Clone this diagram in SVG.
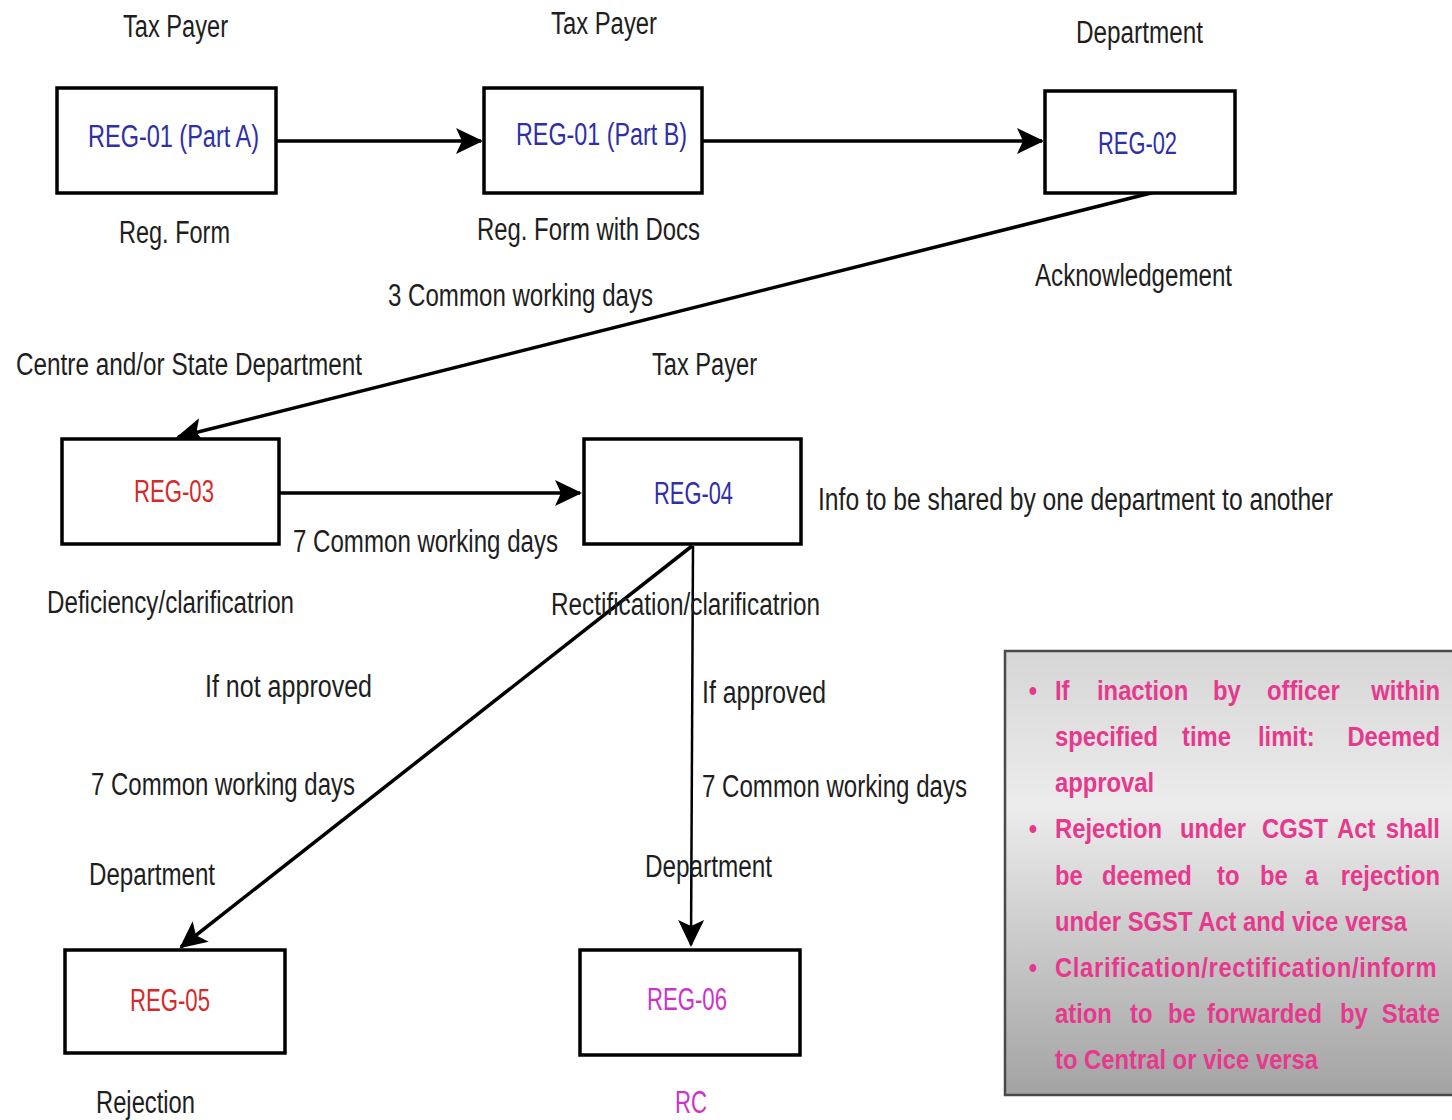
<svg xmlns="http://www.w3.org/2000/svg" width="1452" height="1120" viewBox="0 0 1452 1120">
<style>
.lbl{font-family:"Liberation Sans",Arial,sans-serif;font-size:31px;fill:#1e1e1e}
.box{fill:#fff;stroke:#000;stroke-width:3.5}
.blue{fill:#2f2fa6}
.red{fill:#d42a2a}
.mag{fill:#cc33c8}
.con{stroke:#000;stroke-width:3.5;fill:none}
.note{font-family:"Liberation Sans",Arial,sans-serif;font-weight:bold;font-size:28px;fill:#e6398e}
</style>
<defs>
<marker id="ah" viewBox="-28 -15 31 30" refX="0" refY="0" markerWidth="31" markerHeight="30" markerUnits="userSpaceOnUse" orient="auto">
<path d="M2,0 L-25,-13 L-19,0 L-25,13 Z" fill="#000"/>
</marker>
<linearGradient id="gbg" x1="0" y1="0" x2="0" y2="1">
<stop offset="0" stop-color="#d6d6d6"/>
<stop offset="0.35" stop-color="#ececec"/>
<stop offset="1" stop-color="#a3a3a3"/>
</linearGradient>
</defs>
<rect width="1452" height="1120" fill="#fff"/>

<g id="connectors">
<line class="con" x1="277" y1="141" x2="481" y2="141" marker-end="url(#ah)"/>
<line class="con" x1="703" y1="141" x2="1042" y2="141" marker-end="url(#ah)"/>
<line class="con" x1="1155" y1="192" x2="178" y2="437" marker-end="url(#ah)"/>
<line class="con" x1="280" y1="493" x2="580" y2="493" marker-end="url(#ah)"/>
<line class="con" x1="692" y1="546" x2="181" y2="947" marker-end="url(#ah)"/>
<line class="con" style="stroke-width:2.5" x1="693" y1="546" x2="691" y2="945" marker-end="url(#ah)"/>
</g>

<g id="reg01a">
<rect class="box" x="57" y="88" width="219" height="105"/>
<text class="lbl blue" x="88" y="147" textLength="171" lengthAdjust="spacingAndGlyphs">REG-01 (Part A)</text>
</g>
<g id="reg01b">
<rect class="box" x="484" y="88" width="218" height="105"/>
<text class="lbl blue" x="516" y="145" textLength="171" lengthAdjust="spacingAndGlyphs">REG-01 (Part B)</text>
</g>
<g id="reg02">
<rect class="box" x="1045" y="91" width="190" height="102"/>
<text class="lbl blue" x="1098" y="154" textLength="79" lengthAdjust="spacingAndGlyphs">REG-02</text>
</g>
<g id="reg03">
<rect class="box" x="62" y="439" width="217" height="105"/>
<text class="lbl red" x="134" y="502" textLength="80" lengthAdjust="spacingAndGlyphs">REG-03</text>
</g>
<g id="reg04">
<rect class="box" x="584" y="439" width="217" height="105"/>
<text class="lbl blue" x="654" y="504" textLength="79" lengthAdjust="spacingAndGlyphs">REG-04</text>
</g>
<g id="reg05">
<rect class="box" x="65" y="950" width="220" height="103"/>
<text class="lbl red" x="130" y="1011" textLength="80" lengthAdjust="spacingAndGlyphs">REG-05</text>
</g>
<g id="reg06">
<rect class="box" x="580" y="950" width="220" height="105"/>
<text class="lbl mag" x="647" y="1010" textLength="80" lengthAdjust="spacingAndGlyphs">REG-06</text>
</g>

<g id="labels">
<text class="lbl" x="123" y="37" textLength="105" lengthAdjust="spacingAndGlyphs">Tax Payer</text>
<text class="lbl" x="551" y="34" textLength="106" lengthAdjust="spacingAndGlyphs">Tax Payer</text>
<text class="lbl" x="1076" y="43" textLength="127" lengthAdjust="spacingAndGlyphs">Department</text>
<text class="lbl" x="119" y="243" textLength="111" lengthAdjust="spacingAndGlyphs">Reg. Form</text>
<text class="lbl" x="477" y="240" textLength="223" lengthAdjust="spacingAndGlyphs">Reg. Form with Docs</text>
<text class="lbl" x="1035" y="286" textLength="197" lengthAdjust="spacingAndGlyphs">Acknowledgement</text>
<text class="lbl" x="388" y="306" textLength="265" lengthAdjust="spacingAndGlyphs">3 Common working days</text>
<text class="lbl" x="16" y="375" textLength="346" lengthAdjust="spacingAndGlyphs">Centre and/or State Department</text>
<text class="lbl" x="652" y="375" textLength="105" lengthAdjust="spacingAndGlyphs">Tax Payer</text>
<text class="lbl" x="293" y="552" textLength="265" lengthAdjust="spacingAndGlyphs">7 Common working days</text>
<text class="lbl" x="818" y="510" textLength="515" lengthAdjust="spacingAndGlyphs">Info to be shared by one department to another</text>
<text class="lbl" x="47" y="613" textLength="247" lengthAdjust="spacingAndGlyphs">Deficiency/clarificatrion</text>
<text class="lbl" x="551" y="615" textLength="269" lengthAdjust="spacingAndGlyphs">Rectification/clarificatrion</text>
<text class="lbl" x="205" y="697" textLength="167" lengthAdjust="spacingAndGlyphs">If not approved</text>
<text class="lbl" x="702" y="703" textLength="124" lengthAdjust="spacingAndGlyphs">If approved</text>
<text class="lbl" x="91" y="795" textLength="264" lengthAdjust="spacingAndGlyphs">7 Common working days</text>
<text class="lbl" x="702" y="797" textLength="265" lengthAdjust="spacingAndGlyphs">7 Common working days</text>
<text class="lbl" x="89" y="885" textLength="126" lengthAdjust="spacingAndGlyphs">Department</text>
<text class="lbl" x="645" y="877" textLength="127" lengthAdjust="spacingAndGlyphs">Department</text>
<text class="lbl" x="96" y="1113" textLength="99" lengthAdjust="spacingAndGlyphs">Rejection</text>
<text class="lbl mag" x="675" y="1113" textLength="32" lengthAdjust="spacingAndGlyphs">RC</text>
</g>

<g id="note">
<rect x="1005" y="651" width="460" height="444" fill="url(#gbg)" stroke="#4a4a4a" stroke-width="2.5"/>
<g transform="translate(1055 0) scale(0.85 1)">
<text class="note" x="-31" y="700">•</text>
<text class="note" y="700"><tspan x="0">If</tspan><tspan x="49.4">inaction</tspan><tspan x="185.9">by</tspan><tspan x="249.4">officer</tspan></text>
<text class="note" x="452.9" y="700" text-anchor="end">within</text>
<text class="note" y="746"><tspan x="0">specified</tspan><tspan x="149.4">time</tspan><tspan x="238.8">limit:</tspan></text>
<text class="note" x="452.9" y="746" text-anchor="end">Deemed</text>
<text class="note" x="0" y="792">approval</text>
<text class="note" x="-31" y="838">•</text>
<text class="note" y="838"><tspan x="0">Rejection</tspan><tspan x="147">under</tspan><tspan x="243.5">CGST</tspan><tspan x="331.8">Act</tspan></text>
<text class="note" x="452.9" y="838" text-anchor="end">shall</text>
<text class="note" y="885"><tspan x="0">be</tspan><tspan x="55.3">deemed</tspan><tspan x="190.6">to</tspan><tspan x="241.2">be</tspan><tspan x="294.1">a</tspan></text>
<text class="note" x="452.9" y="885" text-anchor="end">rejection</text>
<text class="note" x="0" y="931">under SGST Act and vice versa</text>
<text class="note" x="-31" y="977">•</text>
<text class="note" x="0" y="977" textLength="449" lengthAdjust="spacing">Clarification/rectification/inform</text>
<text class="note" y="1023"><tspan x="0">ation</tspan><tspan x="88.2">to</tspan><tspan x="132.9">be</tspan><tspan x="178.8">forwarded</tspan><tspan x="335.3">by</tspan></text>
<text class="note" x="452.9" y="1023" text-anchor="end">State</text>
<text class="note" x="0" y="1069">to Central or vice versa</text>
</g>
</g>
</svg>
